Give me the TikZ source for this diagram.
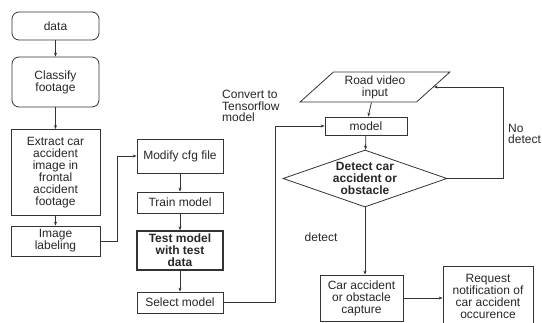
\documentclass[tikz,border=0pt]{standalone}
\usepackage{fontspec}
\setmainfont{Liberation Sans}
\usetikzlibrary{shapes.geometric, arrows.meta}

\begin{document}
\begin{tikzpicture}[x=1pt,y=-1pt,
  box/.style={draw=black!80, line width=0.8pt, align=center, inner sep=1pt, text=black!85,
    font=\fontsize{12}{12}\selectfont},
  rbox/.style={box, rounded corners=7pt},
  lbl/.style={inner sep=0pt, align=left, text=black!85, font=\fontsize{12}{11.5}\selectfont},
  flow/.style={draw=black!80, line width=0.8pt, -{Stealth[length=4pt,width=3pt]}}]
\useasboundingbox (0,0) rectangle (542,323);
% left column
\node[rbox, minimum width=87pt, minimum height=28pt] (data) at (55.5,26) {data};
\node[rbox, minimum width=87pt, minimum height=50pt] (classify) at (55.5,82) {Classify\\footage};
\node[box, minimum width=89pt, minimum height=86pt] (extract) at (55.5,172.5) {Extract car\\accident\\image in\\frontal\\accident\\footage};
\node[box, minimum width=89pt, minimum height=30pt] (labeling) at (55.5,241) {Image\\labeling};
% training column
\node[box, minimum width=86pt, minimum height=34pt] (cfg) at (180,156) {Modify cfg file};
\node[box, minimum width=86pt, minimum height=21pt] (train) at (180,202.5) {Train model};
\node[box, line width=1.3pt, minimum width=86pt, minimum height=39pt,
  font=\fontsize{12}{12}\selectfont\bfseries] (test) at (180,250.5) {Test model\\with test\\data};
\node[box, minimum width=86pt, minimum height=21pt] (select) at (180,302.5) {Select model};
% detection loop
\node[box, trapezium, trapezium left angle=45, trapezium right angle=135, trapezium stretches,
  minimum width=150pt, minimum height=30pt] (road) at (375,87) {Road video\\input};
\node[box, minimum width=82pt, minimum height=18pt] (model) at (366,126) {model};
\node[box, diamond, aspect=2.9, minimum width=164pt, minimum height=57pt, inner sep=-2pt,
  font=\fontsize{12}{12}\selectfont\bfseries] (detect) at (365,178.5) {Detect car\\accident or\\obstacle};
\node[box, minimum width=83pt, minimum height=46pt] (capture) at (361.5,298) {Car accident\\or obstacle\\capture};
\node[box, minimum width=90pt, minimum height=60pt] (notify) at (488,296) {Request\\notification of\\car accident\\occurence};
% labels
\node[lbl, anchor=north west] (convert) at (222,90) {Convert to\\Tensorflow\\model};
\node[lbl] (yes) at (321,237) {detect};
\node[lbl, anchor=west] (no) at (508,134) {No\\detect};
% arrows
\draw[flow] (data) -- (classify);
\draw[flow] (classify) -- (extract);
\draw[flow] (extract) -- (labeling);
\draw[flow] (labeling.east) -- ++(17,0) |- (cfg.west);
\draw[flow] (cfg) -- (train);
\draw[flow] (train) -- (test);
\draw[flow] (test) -- (select);
\draw[flow] (select.east) -- ++(52,0) |- (model.west);
\draw[flow] (road) -- (model);
\draw[flow] (model) -- (detect);
\draw[flow] (detect.east) -- ++(56,0) |- (road.east);
\draw[flow] (detect.south) -- (detect.south |- capture.north);
\draw[flow] (capture.east) -- (capture.east -| notify.west);
\end{tikzpicture}
\end{document}
